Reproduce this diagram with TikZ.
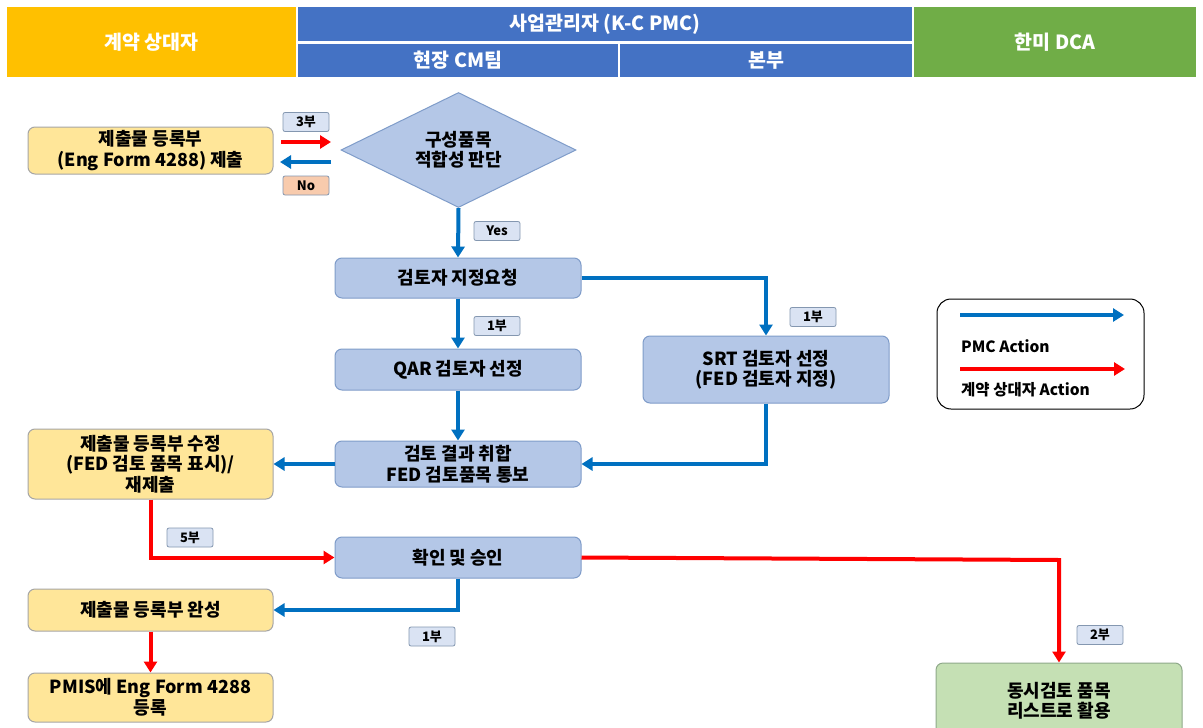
\documentclass[tikz,border=0pt]{standalone}
\usepackage{fontspec}
\setmainfont{Noto Sans CJK KR}
\usetikzlibrary{arrows.meta,shapes.geometric}
\definecolor{hdrorange}{HTML}{FFC000}
\definecolor{hdrblue}{HTML}{4472C4}
\definecolor{hdrgreen}{HTML}{70AD47}
\definecolor{yfill}{HTML}{FFE699}
\definecolor{ydraw}{HTML}{A6A6A6}
\definecolor{bfill}{HTML}{B4C7E7}
\definecolor{bdraw}{HTML}{7F9CC9}
\definecolor{gfill}{HTML}{C5E0B4}
\definecolor{gdraw}{HTML}{8FA98A}
\definecolor{lfill}{HTML}{DAE3F3}
\definecolor{ldraw}{HTML}{8497B0}
\definecolor{nofill}{HTML}{F8CBAD}
\definecolor{pmcblue}{HTML}{0070C0}
\definecolor{cred}{HTML}{FF0000}
\tikzset{
  hdr/.style={draw=none, text=white, font=\fontsize{19.5}{22}\selectfont\bfseries, inner sep=0pt},
  flowbox/.style={rounded corners=7pt, line width=1pt, align=center, inner sep=0pt,
    font=\fontsize{18}{20.5}\selectfont\bfseries},
  ybox/.style={flowbox, fill=yfill, draw=ydraw, minimum width=245pt},
  bbox/.style={flowbox, fill=bfill, draw=bdraw, minimum width=246pt},
  gbox/.style={flowbox, fill=gfill, draw=gdraw, minimum width=246pt},
  lbl/.style={rounded corners=2pt, fill=lfill, draw=ldraw, line width=0.8pt, minimum width=46pt,
    minimum height=19pt, inner sep=0pt, font=\fontsize{13}{15}\selectfont\bfseries},
  bflow/.style={draw=pmcblue, line width=4pt, -{Triangle[length=11pt,width=13pt]}},
  rflow/.style={draw=cred, line width=4pt, -{Triangle[length=11pt,width=13pt]}},
  legtext/.style={anchor=west, inner sep=0pt, font=\fontsize{15.5}{17}\selectfont\bfseries},
}
\begin{document}
\begin{tikzpicture}[x=1pt,y=-1pt]
\useasboundingbox (0,0) rectangle (1203,728);
\fill[white] (0,0) rectangle (1203,728);
% header
\fill[hdrorange] (7,7) rectangle (296,77);
\fill[hdrblue] (298,7) rectangle (912,41);
\fill[hdrblue] (298,44) rectangle (618,77);
\fill[hdrblue] (620,44) rectangle (912,77);
\fill[hdrgreen] (914,7) rectangle (1196,77);
\node[hdr] (h1) at (151.5,42) {계약 상대자};
\node[hdr] (h2) at (605,24) {사업관리자 (K-C PMC)};
\node[hdr] (h3) at (458,60.5) {현장 CM팀};
\node[hdr] (h4) at (766,60.5) {본부};
\node[hdr] (h5) at (1055,42) {한미 DCA};

% nodes
\node[ybox, minimum height=47pt] (b1) at (150.5,150.5) {제출물 등록부\\(Eng Form 4288) 제출};
\node[diamond, aspect=2, fill=bfill, draw=bdraw, line width=1pt, minimum width=235pt, minimum height=115pt,
  inner sep=0pt, align=center, font=\fontsize{18}{20.5}\selectfont\bfseries] (d) at (458.5,150) {구성품목\\적합성 판단};
\node[bbox, minimum height=40pt] (b2) at (458,278) {검토자 지정요청};
\node[bbox, minimum height=41pt] (b3) at (458,369.5) {QAR 검토자 선정};
\node[bbox, minimum height=67pt] (srt) at (766,369.5) {SRT 검토자 선정\\(FED 검토자 지정)};
\node[bbox, minimum height=46pt] (b4) at (458,464) {검토 결과 취합\\FED 검토품목 통보};
\node[ybox, minimum height=70pt] (b5) at (150.5,464) {제출물 등록부 수정\\(FED 검토 품목 표시)/\\재제출};
\node[bbox, minimum height=41pt] (b6) at (458,557.5) {확인 및 승인};
\node[ybox, minimum height=42pt] (b7) at (150.5,610) {제출물 등록부 완성};
\node[ybox, minimum height=49pt] (b8) at (150.5,697.5) {PMIS에 Eng Form 4288\\등록};
\node[gbox, minimum height=76pt] (b9) at (1059,701) {동시검토 품목\\리스트로 활용};

% labels
\node[lbl] (l3) at (306,122) {3부};
\node[lbl, fill=nofill] (lno) at (306,185.5) {No};
\node[lbl] (lyes) at (497,231) {Yes};
\node[lbl] (l1a) at (497,326) {1부};
\node[lbl] (l1b) at (813,317) {1부};
\node[lbl] (l5) at (190,537.5) {5부};
\node[lbl] (l1c) at (432,636.5) {1부};
\node[lbl] (l2) at (1100,635) {2부};

% connectors
\coordinate (r3s) at (281,142);
\coordinate (r3e) at (331,142);
\coordinate (bns) at (331,162);
\coordinate (bne) at (280,162);
\draw[rflow] (r3s) -- (r3e);
\draw[bflow] (bns) -- (bne);
\draw[bflow] (d.south) -- (b2.north);
\draw[bflow] (b2.south) -- (b3.north);
\draw[bflow] (b2.east) -| (srt.north);
\draw[bflow] (b3.south) -- (b4.north);
\draw[bflow] (srt.south) |- (b4.east);
\draw[bflow] (b4.west) -- (b5.east);
\draw[rflow] (b5.south) |- (b6.west);
\draw[bflow] (b6.south) |- (b7.east);
\draw[rflow] (b7.south) -- (b8.north);
\coordinate (rc) at (1059,560);
\draw[rflow] (b6.east) -- (rc) -- (b9.north);

% legend
\node[draw=black, line width=1pt, rounded corners=14pt, minimum width=207pt, minimum height=110pt] (leg) at (1040.5,354) {};
\coordinate (lb1) at (960,315);
\coordinate (lb2) at (1124,315);
\coordinate (lr1) at (960,369);
\coordinate (lr2) at (1125,369);
\draw[bflow] (lb1) -- (lb2);
\draw[rflow] (lr1) -- (lr2);
\node[legtext] (t1) at (961,346) {PMC Action};
\node[legtext] (t2) at (961,390) {계약 상대자 Action};
\end{tikzpicture}
\end{document}
